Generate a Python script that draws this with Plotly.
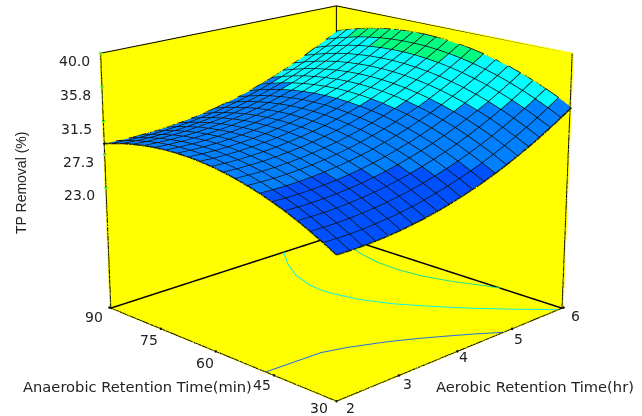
import plotly.graph_objects as go

W, H = 1481, 1481
OX, OY = 404, 557
def px(x): return (x + OX) / W
def py(y): return 1 - (y + OY) / H

aerobic = [2.0,2.2,2.4,2.6,2.8,3.0,3.2,3.4,3.6,3.8,4.0,4.2,4.4,4.6,4.8,5.0,5.2,5.4,5.6,5.8,6.0]
anaerobic = [30,33,36,39,42,45,48,51,54,57,60,63,66,69,72,75,78,81,84,87,90]
Z = [
[24.30,24.27,24.30,24.37,24.50,24.67,24.89,25.16,25.48,25.85,26.28,26.74,27.26,27.83,28.45,29.12,29.84,30.60,31.42,32.28,33.20],
[25.18,25.15,25.17,25.24,25.37,25.54,25.75,26.02,26.34,26.71,27.13,27.59,28.11,28.67,29.29,29.96,30.68,31.43,32.25,33.11,34.03],
[25.99,25.95,25.98,26.04,26.17,26.33,26.55,26.81,27.13,27.49,27.92,28.37,28.88,29.45,30.06,30.73,31.44,32.20,33.01,33.87,34.78],
[26.74,26.70,26.72,26.79,26.91,27.07,27.28,27.54,27.85,28.22,28.64,29.09,29.60,30.16,30.77,31.44,32.15,32.90,33.71,34.56,35.48],
[27.41,27.37,27.39,27.45,27.57,27.73,27.93,28.19,28.50,28.86,29.28,29.73,30.24,30.80,31.41,32.07,32.77,33.52,34.33,35.18,36.09],
[28.01,27.97,27.98,28.04,28.16,28.31,28.52,28.77,29.08,29.44,29.85,30.30,30.81,31.36,31.97,32.62,33.33,34.08,34.88,35.73,36.64],
[28.54,28.49,28.51,28.56,28.67,28.83,29.03,29.28,29.59,29.94,30.36,30.80,31.30,31.86,32.46,33.11,33.82,34.56,35.36,36.21,37.11],
[29.00,28.95,28.96,29.01,29.12,29.27,29.47,29.73,30.03,30.38,30.79,31.23,31.73,32.28,32.88,33.53,34.23,34.97,35.77,36.61,37.52],
[29.39,29.34,29.35,29.39,29.50,29.65,29.85,30.10,30.39,30.74,31.15,31.59,32.09,32.63,33.23,33.88,34.58,35.32,36.11,36.95,37.85],
[29.71,29.66,29.66,29.71,29.81,29.96,30.15,30.40,30.69,31.04,31.44,31.88,32.37,32.92,33.51,34.16,34.85,35.59,36.38,37.22,38.11],
[29.96,29.90,29.90,29.95,30.05,30.19,30.39,30.63,30.92,31.26,31.67,32.10,32.59,33.13,33.73,34.37,35.06,35.79,36.58,37.42,38.31],
[30.14,30.08,30.08,30.12,30.22,30.36,30.55,30.79,31.08,31.42,31.82,32.25,32.74,33.28,33.87,34.51,35.20,35.93,36.72,37.55,38.43],
[30.25,30.19,30.18,30.22,30.32,30.45,30.64,30.88,31.17,31.50,31.90,32.33,32.81,33.35,33.94,34.57,35.26,35.99,36.78,37.60,38.49],
[30.29,30.22,30.22,30.25,30.35,30.48,30.67,30.90,31.18,31.52,31.91,32.34,32.82,33.36,33.94,34.57,35.26,35.98,36.77,37.59,38.47],
[30.26,30.19,30.18,30.21,30.31,30.44,30.62,30.85,31.13,31.46,31.86,32.28,32.76,33.29,33.87,34.50,35.18,35.91,36.69,37.51,38.39],
[30.16,30.09,30.08,30.11,30.20,30.32,30.50,30.73,31.01,31.34,31.73,32.15,32.62,33.15,33.73,34.36,35.04,35.76,36.54,37.36,38.24],
[29.99,29.92,29.90,29.93,30.01,30.14,30.31,30.54,30.82,31.14,31.53,31.95,32.42,32.95,33.52,34.15,34.83,35.54,36.32,37.13,38.01],
[29.75,29.67,29.66,29.68,29.76,29.89,30.06,30.28,30.56,30.88,31.26,31.68,32.15,32.67,33.25,33.87,34.54,35.26,36.03,36.84,37.71],
[29.43,29.35,29.33,29.35,29.43,29.55,29.72,29.94,30.21,30.53,30.91,31.33,31.80,32.32,32.89,33.51,34.18,34.89,35.66,36.47,37.34],
[29.05,28.97,28.94,28.96,29.04,29.16,29.33,29.54,29.81,30.13,30.51,30.92,31.38,31.90,32.47,33.09,33.75,34.46,35.23,36.04,36.91],
[28.60,28.52,28.49,28.51,28.58,28.70,28.86,29.08,29.34,29.65,30.03,30.44,30.90,31.42,31.98,32.60,33.26,33.97,34.73,35.54,36.40],
]
blue_level = 28.5
cyan_levels = [33.37,33.31,33.25,33.19,33.13,33.07,33.01,32.95,32.89,32.83,32.77,32.71,32.65,32.59,32.53,32.47,32.41,32.35,32.29,32.23]
green_level = 36.9
colors = ["#0050ff", "#0080ff", "#00ffff", "#00ff80"]
ZMIN, ZMAX = 7, 40
ZF = ZMIN + 0.12
XE, YE = 5.97, 89.6
ztick = [40, 35.8, 31.5, 27.3, 23]
ztext = ["40.0", "35.8", "31.5", "27.3", "23.0"]
xtick = [2, 3, 4, 5, 6]
ytick = [90, 75, 60, 45, 30]
xtick_dx = [0, -5, -8, -8, -2]; xtick_dy = [2, 0, 3, -1, 0]
ytick_dx = [1, 5, 6, 5, -1]; ytick_dy = [0, -1, -2, 0, 3]
blue_x = [4.84,4.57,4.27,3.96,3.60,3.16,2.85,2.0]; blue_y = [30,33,36,39,42,45,46.5,47.1]
cyan_x = [5.90,5.52,5.17,4.86,4.59,4.40,4.31,4.30,4.32,4.45,4.68,4.98]; cyan_y = [30,36,42,48,54,60,66,69,72,78,84,90]
green_x = [5.97,5.90,5.72,5.60,5.55,5.57,5.66,5.81,5.91,5.97]; green_y = [45,48,54,60,66,72,78,84,87,89.4]

vx, vy, vz, ti, tj, tk, fc = [], [], [], [], [], [], []
for j in range(21):
    for i in range(21):
        vx.append(aerobic[i]); vy.append(anaerobic[j]); vz.append(Z[j][i])
for j in range(20):
    for i in range(20):
        a = j * 21 + i
        m = (Z[j][i] + Z[j][i + 1] + Z[j + 1][i] + Z[j + 1][i + 1]) / 4
        c = colors[(m >= blue_level) + (m >= cyan_levels[j]) + (m >= green_level)]
        ti += [a, a]; tj += [a + 1, a + 22]; tk += [a + 22, a + 21]; fc += [c, c]

fig = go.Figure()
fig.add_trace(go.Mesh3d(x=vx, y=vy, z=vz, i=ti, j=tj, k=tk, facecolor=fc, flatshading=True,
                        lighting=dict(ambient=1, diffuse=0, specular=0, roughness=1, fresnel=0), showscale=False))
gx, gy, gz = [], [], []
for j in range(21):
    gx += aerobic + [None]; gy += [anaerobic[j]] * 21 + [None]; gz += Z[j] + [None]
for i in range(21):
    gx += [aerobic[i]] * 21 + [None]; gy += anaerobic + [None]; gz += [Z[j][i] for j in range(21)] + [None]
fig.add_trace(go.Scatter3d(x=gx, y=gy, z=gz, mode="lines", line=dict(color="#111", width=3)))
for cx, cy, col in [(blue_x, blue_y, "#2070e0"), (cyan_x, cyan_y, "#10f0e0"), (green_x, green_y, "#20e090")]:
    fig.add_trace(go.Scatter3d(x=cx, y=cy, z=[ZF] * len(cx), mode="lines", line=dict(color=col, width=2)))
fig.add_trace(go.Scatter3d(x=[2,XE,None,XE,XE,None,2,2,None,XE,XE,None,XE,XE],
                           y=[YE,YE,None,YE,30,None,YE,YE,None,YE,YE,None,30,30],
                           z=[ZMAX,ZMAX,None,ZMAX,ZMAX,None,ZMAX,ZMIN,None,ZMAX,ZMIN,None,ZMAX,ZMIN],
                           mode="lines", line=dict(color="#000", width=2)))
fig.add_trace(go.Scatter3d(x=[2,XE,None,XE,XE], y=[YE,YE,None,YE,30], z=[ZF,ZF,None,ZF,ZF],
                           mode="lines", line=dict(color="#000", width=3)))
fig.add_trace(go.Scatter3d(x=[2,6,None,2,2], y=[30,30,None,30,90], z=[ZF,ZF,None,ZF,ZF],
                           mode="lines", line=dict(color="#000", width=2)))
fig.add_trace(go.Scatter3d(x=[2]*5, y=[YE]*5, z=ztick, mode="markers", marker=dict(color="#66ee22", size=2)))
fig.add_trace(go.Scatter3d(x=[2]*5+xtick, y=ytick+[30]*5, z=[ZF]*10, mode="markers", marker=dict(color="#111", size=1.5)))

font = dict(family="DejaVu Sans", size=14, color="#222")
tfont = dict(family="DejaVu Sans", size=14.7, color="#222")
ann3d = []
for z, t in zip(ztick, ztext):
    ann3d.append(dict(x=2, y=90, z=z, text=t, showarrow=False, xshift=-25, yshift=-8, font=font))
for y, dx, dy in zip(ytick, ytick_dx, ytick_dy):
    ann3d.append(dict(x=2, y=y, z=ZMIN, text=str(y), showarrow=False, xshift=-17 + dx, yshift=-9 + dy, font=font))
for x, dx, dy in zip(xtick, xtick_dx, xtick_dy):
    ann3d.append(dict(x=x, y=30, z=ZMIN, text=str(x), showarrow=False, xshift=14 + dx, yshift=-8 + dy, font=font))
titles = [
    dict(text="Anaerobic Retention Time(min)", x=px(137), y=py(386), textangle=0, font=tfont),
    dict(text="Aerobic Retention Time(hr)", x=px(535), y=py(386), textangle=0, font=tfont),
    dict(text="TP Removal (%)", x=px(21), y=py(183), textangle=-90, font=dict(family="Liberation Sans", size=14, color="#222")),
]
for t in titles:
    t.update(xref="paper", yref="paper", showarrow=False, xanchor="center", yanchor="middle")

ax = dict(showgrid=False, zeroline=False, showticklabels=False, ticks="", title="", showbackground=True,
          backgroundcolor="#ffff00", showspikes=False, showline=False)
fig.update_layout(width=W, height=H, margin=dict(l=0, r=0, t=0, b=0), paper_bgcolor="white", showlegend=False,
    annotations=titles,
    scene=dict(domain=dict(x=[0, 1], y=[0, 1]), annotations=ann3d,
        xaxis=dict(ax, range=[2, 6]), yaxis=dict(ax, range=[30, 90]), zaxis=dict(ax, range=[ZMIN, ZMAX]),
        aspectmode="manual", aspectratio=dict(x=1, y=1, z=0.815),
        camera=dict(eye=dict(x=-3.68, y=-3.68, z=1.613), center=dict(x=0, y=0, z=0), projection=dict(type="perspective"))))
fig.write_html("out.html", config=dict(displayModeBar=False),
    post_script=f"document.documentElement.style.overflow='hidden';document.body.style.overflow='hidden';document.body.style.margin='0';var g=document.querySelector('.plotly-graph-div');g.style.position='absolute';g.style.left='-{OX}px';g.style.top='-{OY}px';")
